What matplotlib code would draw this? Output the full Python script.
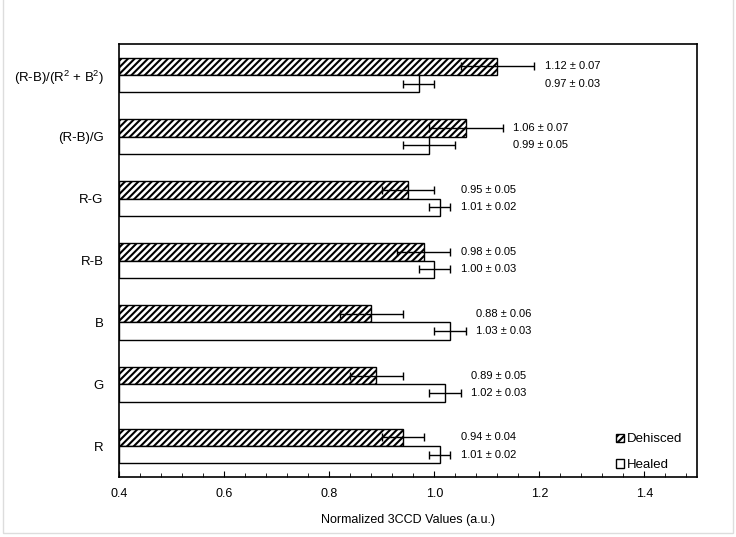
import matplotlib
matplotlib.use('Agg')
import matplotlib.pyplot as plt
import numpy as np
from matplotlib.patches import Patch, Rectangle
from matplotlib.ticker import MultipleLocator

plt.rcParams['font.family'] = ['Liberation Sans', 'DejaVu Sans']
plt.rcParams['mathtext.default'] = 'regular'
plt.rcParams['hatch.linewidth'] = 1.5

# bottom to top
categories = ['R', 'G', 'B', 'R-B', 'R-G', '(R-B)/G', '(R-B)/(R$^2$ + B$^2$)']
dehisced = [0.94, 0.89, 0.88, 0.98, 0.95, 1.06, 1.12]
dehisced_err = [0.04, 0.05, 0.06, 0.05, 0.05, 0.07, 0.07]
healed = [1.01, 1.02, 1.03, 1.00, 1.01, 0.99, 0.97]
healed_err = [0.02, 0.03, 0.03, 0.03, 0.02, 0.05, 0.03]

fig = plt.figure(figsize=(7.36, 5.37), dpi=100)
fig.patches.append(Rectangle((3 / 736, 4 / 537), 730 / 736, 540 / 537, transform=fig.transFigure,
                             fill=False, edgecolor='#dddddd', linewidth=1.0))
ax = fig.add_axes([0.1617, 0.1117, 0.7853, 0.8063])

y = np.arange(len(categories))
h = 0.28
x0 = 0.4

ax.barh(y + h / 2, np.array(dehisced) - x0, height=h, left=x0, color='white',
        edgecolor='black', hatch='/////', linewidth=1.0)
ax.barh(y - h / 2, np.array(healed) - x0, height=h, left=x0, color='white',
        edgecolor='black', linewidth=1.0)
ax.errorbar(dehisced, y + h / 2, xerr=dehisced_err, fmt='none', ecolor='black',
            elinewidth=1.0, capsize=3, capthick=1.0)
ax.errorbar(healed, y - h / 2, xerr=healed_err, fmt='none', ecolor='black',
            elinewidth=1.0, capsize=3, capthick=1.0)

for i in range(len(categories)):
    xt = max(dehisced[i] + dehisced_err[i], healed[i] + healed_err[i]) + 0.02
    ax.text(xt, y[i] + h / 2, '%.2f ± %.2f' % (dehisced[i], dehisced_err[i]),
            va='center', ha='left', fontsize=8)
    ax.text(xt, y[i] - h / 2, '%.2f ± %.2f' % (healed[i], healed_err[i]),
            va='center', ha='left', fontsize=8)

ax.set_xlim(0.4, 1.5)
ax.set_ylim(-0.5, 6.5)
ax.set_yticks(y)
ax.set_yticklabels(categories, fontsize=9.5)
ax.xaxis.set_minor_locator(MultipleLocator(0.04))
ax.set_xticks([0.4, 0.6, 0.8, 1.0, 1.2, 1.4])
ax.set_xticklabels(['0.4', '0.6', '0.8', '1.0', '1.2', '1.4'], fontsize=9)
ax.tick_params(axis='x', which='both', direction='in', top=False)
ax.tick_params(axis='x', which='major', length=4, pad=8)
ax.tick_params(axis='x', which='minor', length=3)
ax.tick_params(axis='y', length=0, pad=11)
for s in ax.spines.values():
    s.set_linewidth(1.2)
ax.set_xlabel('Normalized 3CCD Values (a.u.)', fontsize=9, labelpad=10)

handles = [Patch(facecolor='white', edgecolor='black', hatch='/////', label='Dehisced'),
           Patch(facecolor='white', edgecolor='black', label='Healed')]
ax.legend(handles=handles, loc='lower right', bbox_to_anchor=(0.995, -0.014), frameon=False,
          fontsize=9.5, handlelength=0.6, handleheight=0.6, handletextpad=0.25,
          labelspacing=1.05)

fig.savefig('out.png', dpi=100)
